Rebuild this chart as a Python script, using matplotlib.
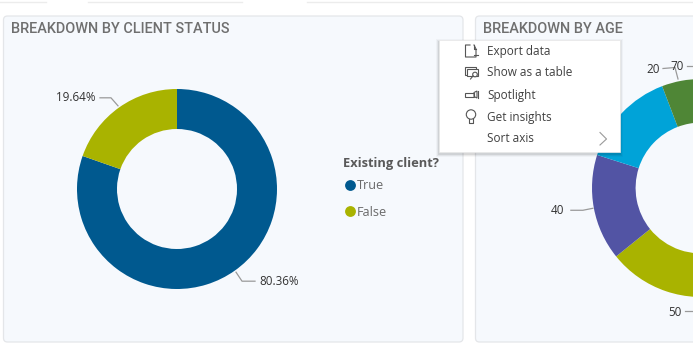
import numpy as np
import matplotlib
matplotlib.use("Agg")
import matplotlib.pyplot as plt
from matplotlib.patches import FancyBboxPatch, Rectangle, Circle, Polygon

W, H = 693, 356

# data
status_labels = ["True", "False"]
status_values = [80.36, 19.64]
status_colors = ["#00598f", "#a9b300"]

# the 30 group lies outside the crop, its share is whatever is left
age_labels = ["30", "50", "40", "20", "70"]
age_values = [46.2, 18.0, 15.7, 14.3, 5.8]
age_colors = ["#00598f", "#a9b300", "#5254a4", "#00a3d8", "#4f8636"]

menu_items = ["Export data", "Show as a table", "Spotlight", "Get insights", "Sort axis"]

LABEL_FONT = "Open Sans"
TITLE_FONT = "Roboto"


def px_axes(x0, y0, x1, y1, zorder):
    return fig.add_axes([x0 / W, 1 - y1 / H, (x1 - x0) / W, (y1 - y0) / H], zorder=zorder)


def donut(cx, cy, r, values, colors, hole):
    a = px_axes(cx - r, cy - r, cx + r, cy + r, 2)
    a.pie(values, colors=colors, startangle=90, counterclock=False, radius=1,
          wedgeprops=dict(width=1 - hole, linewidth=0))
    a.set_xlim(-1, 1)
    a.set_ylim(-1, 1)
    a.set_aspect("auto")
    a.patch.set_alpha(0)
    return a


def wedge_edge(cx, cy, r, values, i):
    # outer edge of slice i at its middle, going clockwise from the top
    mid = (sum(values[:i]) + values[i] / 2) / sum(values) * 2 * np.pi
    return cx + r * np.sin(mid), cy - r * np.cos(mid)


fig = plt.figure(figsize=(W / 100, H / 100), dpi=100, facecolor="white")

back = px_axes(0, 0, W, H, 1)
back.set_xlim(0, W)
back.set_ylim(H, 0)
back.axis("off")

# tabs cut off at the top
for x0, x1 in [(0, 46), (88, 242), (307, 693)]:
    back.plot([x0, x1], [2, 2], color="#ececec", lw=1)

for x0, x1 in [(3.5, 463), (475.5, 720)]:
    back.add_patch(FancyBboxPatch((x0 + 4, 20), x1 - x0 - 8, 318,
                                  boxstyle="round,pad=4,rounding_size=4",
                                  fc="#f6f9fd", ec="#e4e6e9", lw=0.9))

back.text(11, 29, "BREAKDOWN BY CLIENT STATUS", family=TITLE_FONT, fontsize=10.45,
          weight="medium", color="#6f6f6f", va="center")
back.text(483, 29, "BREAKDOWN BY AGE", family=TITLE_FONT, fontsize=10.45,
          weight="medium", color="#6f6f6f", va="center")

cx1, cy1, r1 = 177, 189, 100
cx2, cy2, r2 = 701, 188, 109
donut(cx1, cy1, r1, status_values, status_colors, 0.6)
donut(cx2, cy2, r2, age_values, age_colors, 0.6)

top = px_axes(0, 0, W, H, 3)
top.set_xlim(0, W)
top.set_ylim(H, 0)
top.axis("off")
top.patch.set_alpha(0)

LINE = "#9a9a9a"
TXT = "#333333"

# leader lines and labels, left donut
x, y = wedge_edge(cx1, cy1, r1 + 2, status_values, 1)
top.plot([x, x - 7, x - 18], [y, y - 8, y - 8], color=LINE, lw=0.9)
top.text(x - 22, y - 8, "%.2f%%" % status_values[1], family=LABEL_FONT, fontsize=8.4,
         color=TXT, ha="right", va="center")
x, y = wedge_edge(cx1, cy1, r1 + 2, status_values, 0)
top.plot([x, x + 6, x + 19], [y, y + 9, y + 9], color=LINE, lw=0.9)
top.text(x + 23, y + 9, "%.2f%%" % status_values[0], family=LABEL_FONT, fontsize=8.4,
         color=TXT, ha="left", va="center")

# legend
top.text(343, 164, "Existing client?", family=LABEL_FONT, fontsize=9.3, weight="bold",
         color="#595959", va="center")
for lab, col, yy in zip(status_labels, status_colors, [184.5, 211]):
    top.plot(349.5, yy, "o", color=col, ms=7.8, mew=0)
    top.text(357, yy + 1, lab, family=LABEL_FONT, fontsize=9.1, color="#6a6a6a", va="center")

# right donut labels
x, y = wedge_edge(cx2, cy2, r2 + 1, age_values, 2)
top.plot([x, x - 10, x - 22], [y, y + 2, y + 2], color=LINE, lw=0.9)
top.text(x - 29, y + 2, age_labels[2], family=LABEL_FONT, fontsize=8.4, color=TXT,
         ha="right", va="center")
top.text(668, 312.5, age_labels[1], family=LABEL_FONT, fontsize=8.4, color=TXT, va="center")
top.plot([685, 693], [311, 311], color=LINE, lw=0.9)
top.text(660, 69.5, age_labels[3], family=LABEL_FONT, fontsize=8.4, color=TXT,
         ha="right", va="center")
top.plot([663, 675, 678], [68.5, 67.5, 79], color=LINE, lw=0.9)
top.text(670, 66.5, age_labels[4], family=LABEL_FONT, fontsize=8.4, color=TXT, va="center")
top.plot([687, 693], [66, 66], color=LINE, lw=0.9)

# context menu
for off, alpha in [(3, 0.03), (2, 0.05), (1, 0.08)]:
    top.add_patch(Rectangle((438.5 - off + 0.5, 40 - off + 2), 181 + 2 * off, 112 + 2 * off,
                            fc="black", ec="none", alpha=alpha))
top.add_patch(Rectangle((438.5, 40), 181, 112, fc="white", ec="#e8e8e8", lw=0.5))
for i, item in enumerate(menu_items):
    top.text(487, 51 + 22 * i, item, family=LABEL_FONT, fontsize=8.5, color="#404040",
             va="center")

ICON = dict(color="#555555", lw=0.8)
# export
top.plot([470, 465.5, 465.5, 476, 476, 474], [45, 45, 57, 57, 49, 45], **ICON)
top.plot([474, 474, 476], [45, 49, 49], **ICON)
top.plot([474, 478], [55, 55], **ICON)
# table
top.add_patch(Rectangle((464.5, 67), 11, 8, fc="none", ec="#555555", lw=0.8))
top.add_patch(Rectangle((466.5, 69), 11, 7, fc="white", ec="#555555", lw=0.8))
top.add_patch(Circle((475, 74.5), 2.3, fc="white", ec="#555555", lw=0.8))
top.plot([473, 470.5], [76, 79], **ICON)
# spotlight
top.add_patch(Rectangle((465, 92.5), 9, 4, fc="none", ec="#555555", lw=0.8))
top.add_patch(Polygon([(474, 92.5), (477, 91), (477, 98), (474, 96.5)], fc="none",
                      ec="#555555", lw=0.8))
top.plot([478, 478], [91, 98], **ICON)
# insights
top.add_patch(Circle((471, 114.5), 4.7, fc="none", ec="#555555", lw=0.8))
top.plot([469, 469, 473, 473], [119, 123, 123, 119], **ICON)
# submenu arrow
top.plot([600, 606.5, 600], [132.5, 139, 145], color="#9a9a9a", lw=0.8)

fig.savefig("out.png", dpi=100)
